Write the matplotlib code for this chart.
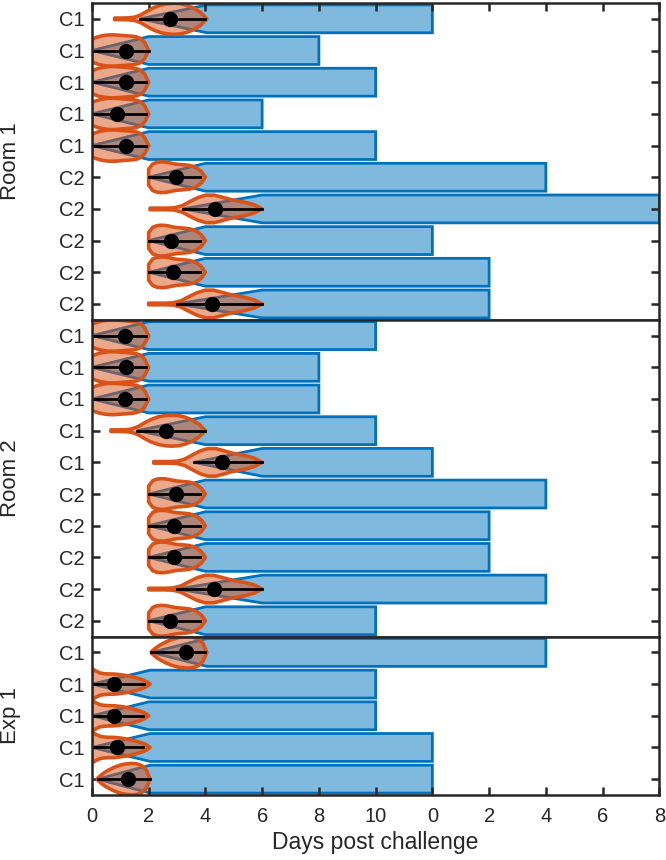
import numpy as np
import matplotlib
matplotlib.use('Agg')
import matplotlib.pyplot as plt
from matplotlib.patches import Polygon

plt.rcParams['font.family'] = ['Liberation Sans', 'DejaVu Sans']

# violin outline templates: relative half-width read left -> right
shapes = {
    'blunt':  [0.72, 0.82, 0.9, 0.95, 0.98, 0.99, 0.98, 0.96, 0.94, 0.92, 0.9, 0.86, 0.76, 0.52, 0.0],
    'round':  [0.5, 0.84, 0.94, 0.97, 0.96, 0.92, 0.86, 0.82, 0.8, 0.78, 0.75, 0.68, 0.56, 0.36, 0.0],
    'tail4':  [0.05, 0.05, 0.06, 0.1, 0.25, 0.5, 0.72, 0.87, 0.95, 0.98, 0.95, 0.85, 0.68, 0.42, 0.0],
    'tail6':  [0.05, 0.05, 0.05, 0.07, 0.2, 0.47, 0.72, 0.87, 0.87, 0.74, 0.6, 0.5, 0.4, 0.26, 0.0],
    'spike':  [0.98, 0.82, 0.7, 0.66, 0.64, 0.64, 0.62, 0.59, 0.55, 0.5, 0.44, 0.37, 0.29, 0.18, 0.0],
    'shield': [0.05, 0.27, 0.44, 0.58, 0.7, 0.8, 0.88, 0.94, 0.97, 0.99, 0.98, 0.93, 0.82, 0.57, 0.0],
}

panel_names = ['Room 1', 'Room 2', 'Exp 1']

room1_labels = ['C1'] * 5 + ['C2'] * 5
room1_vlo = [0.8, 0, 0, 0, 0, 2.0, 2.05, 2.0, 2.0, 2.0]
room1_vhi = [4.05, 2.0, 2.0, 2.0, 2.0, 4.0, 6.0, 4.0, 4.0, 6.0]
room1_med = [2.75, 1.2, 1.2, 0.9, 1.2, 2.95, 4.35, 2.8, 2.85, 4.25]
room1_llo = [1.7, 0, 0, 0, 0, 2.0, 3.2, 2.0, 2.0, 3.0]
room1_lhi = [4.0, 2.0, 1.9, 1.9, 1.9, 3.8, 6.0, 3.8, 3.8, 6.0]
room1_bar = [12, 8, 10, 6, 10, 16, 20, 12, 14, 14]
room1_shape = ['tail4', 'blunt', 'blunt', 'blunt', 'blunt', 'round', 'tail6', 'round', 'round', 'tail6']

room2_labels = ['C1'] * 5 + ['C2'] * 5
room2_vlo = [0, 0, 0, 0.67, 2.18, 2.0, 2.0, 2.0, 2.0, 2.0]
room2_vhi = [2.0, 2.0, 2.0, 4.0, 6.0, 4.0, 4.0, 4.0, 6.0, 4.0]
room2_med = [1.15, 1.2, 1.15, 2.6, 4.6, 2.95, 2.9, 2.9, 4.3, 2.75]
room2_llo = [0, 0, 0, 1.6, 3.6, 2.0, 2.0, 2.0, 3.0, 2.0]
room2_lhi = [1.9, 1.9, 1.9, 4.0, 6.0, 3.8, 3.8, 3.8, 6.0, 3.8]
room2_bar = [10, 8, 8, 10, 12, 16, 14, 14, 16, 10]
room2_shape = ['blunt', 'blunt', 'blunt', 'tail4', 'tail6', 'round', 'round', 'round', 'tail6', 'round']

exp1_labels = ['C1'] * 5
exp1_vlo = [2.1, 0, 0, 0, 0.2]
exp1_vhi = [4.05, 2.05, 2.0, 2.05, 2.05]
exp1_med = [3.3, 0.77, 0.77, 0.87, 1.27]
exp1_llo = [2.1, 0, 0, 0, 0.2]
exp1_lhi = [4.0, 1.85, 1.8, 1.8, 2.05]
exp1_bar = [16, 10, 10, 12, 12]
exp1_shape = ['shield', 'spike', 'spike', 'spike', 'shield']

xticks = [0, 2, 4, 6, 8, 10, 12, 14, 16, 18, 20]
xticklabels = ['0', '2', '4', '6', '8', '10', '0', '2', '4', '6', '8']

panels = [
    (room1_labels, room1_vlo, room1_vhi, room1_med, room1_llo, room1_lhi, room1_bar, room1_shape),
    (room2_labels, room2_vlo, room2_vhi, room2_med, room2_llo, room2_lhi, room2_bar, room2_shape),
    (exp1_labels, exp1_vlo, exp1_vhi, exp1_med, exp1_llo, exp1_lhi, exp1_bar, exp1_shape),
]

bar_face = '#80b9de'
bar_edge = '#0072BD'
vio_edge = '#D95319'
axis_col = '#262626'
bar_h = 0.44
vio_h = 0.5

fig = plt.figure(figsize=(6.66, 8.6), dpi=100)
gs = fig.add_gridspec(3, 1, height_ratios=[10, 10, 5], hspace=0,
                      left=0.138, right=0.99, top=0.9965, bottom=0.0756)

for i, (labels, vlo, vhi, med, llo, lhi, bar, shp) in enumerate(panels):
    ax = fig.add_subplot(gs[i])
    n = len(labels)
    for j in range(n):
        y = j
        # bar with tapered lead-in
        pts = [(llo[j], y), (vhi[j], y - bar_h), (bar[j], y - bar_h),
               (bar[j], y + bar_h), (vhi[j], y + bar_h)]
        ax.add_patch(Polygon(pts, closed=True, facecolor=bar_face, edgecolor=bar_edge,
                             lw=2, joinstyle='miter', zorder=1))
        # violin
        prof = np.array(shapes[shp[j]])
        xs = np.linspace(vlo[j], vhi[j], len(prof))
        top = np.column_stack([xs, y - prof * vio_h])
        bot = np.column_stack([xs[::-1], y + prof[::-1] * vio_h])
        outline = np.vstack([top, bot])
        ax.add_patch(Polygon(outline, closed=True, facecolor=vio_edge,
                             alpha=0.5, edgecolor='none', zorder=2))
        ax.add_patch(Polygon(outline, closed=True, facecolor='none',
                             edgecolor=vio_edge, lw=2.6, joinstyle='round', zorder=3))
        ax.plot([llo[j], lhi[j]], [y, y], color='black', lw=2, zorder=4)
        ax.plot(med[j], y, 'o', color='black', ms=10, zorder=5)

    ax.set_xlim(0, 20)
    ax.set_ylim(n - 0.5, -0.5)
    ax.set_yticks(range(n))
    ax.set_yticklabels(labels, fontsize=14.5)
    ax.set_xticks(xticks)
    ax.set_xticklabels(xticklabels, fontsize=14.5)
    ax.tick_params(direction='in', length=6, width=1.8, right=True, colors=axis_col,
                   top=(i == 0), bottom=(i == 2), labelbottom=(i == 2), pad=5)
    ax.tick_params(axis='x', pad=9)
    for s in ax.spines.values():
        s.set_linewidth(1.8)
        s.set_color(axis_col)
        s.set_zorder(6)
    ax.set_ylabel(panel_names[i], fontsize=16, color=axis_col)
    ax.yaxis.set_label_coords(-0.125, 0.5)
    if i == 2:
        ax.set_xlabel('Days post challenge', fontsize=16.5, color=axis_col, labelpad=3)

fig.savefig('out.png', dpi=100)
